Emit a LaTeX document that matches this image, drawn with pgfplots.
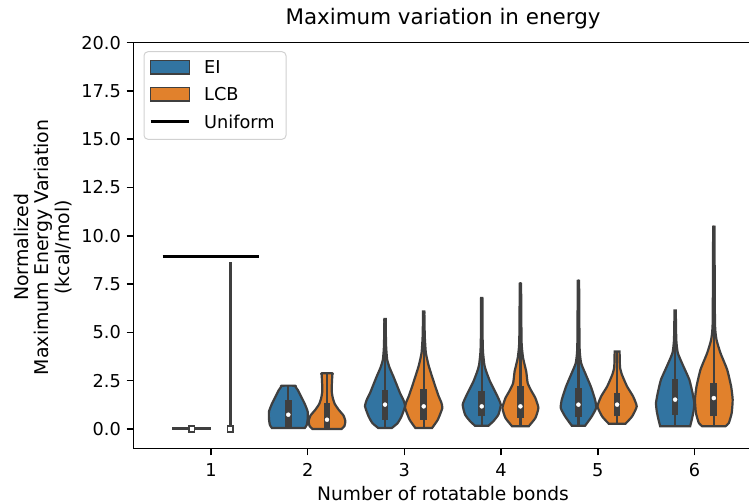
\documentclass[border=0pt]{standalone}
\usepackage{pgfplots}
\pgfplotsset{compat=1.18}
\usepackage{pgfplotstable}
\usepackage{fontspec}
\setmainfont{DejaVu Sans}
\definecolor{eiblue}{RGB}{50,116,161}
\definecolor{lcborange}{RGB}{225,129,44}
\definecolor{edgegray}{RGB}{63,63,63}

\pgfplotstableread{
dx y
0.17 0.05
0.19 0.2
0.2 0.5
0.2 0.9
0.17 1.3
0.13 1.7
0.1 2.0
0.075 2.18
0.07 2.24
-0.07 2.24
-0.075 2.18
-0.1 2.0
-0.13 1.7
-0.17 1.3
-0.2 0.9
-0.2 0.5
-0.19 0.2
-0.17 0.05
}\vTwoB
\pgfplotstableread{
dx y
0.15 0.0
0.18 0.15
0.19 0.4
0.17 0.7
0.12 1.0
0.08 1.3
0.06 1.6
0.05 1.9
0.05 2.3
0.055 2.8
0.055 2.88
-0.055 2.88
-0.055 2.8
-0.05 2.3
-0.05 1.9
-0.06 1.6
-0.08 1.3
-0.12 1.0
-0.17 0.7
-0.19 0.4
-0.18 0.15
-0.15 0.0
}\vTwoO
\pgfplotstableread{
dx y
0.07 0.05
0.13 0.3
0.17 0.65
0.207 1.17
0.19 1.5
0.155 1.86
0.12 2.3
0.086 2.72
0.045 3.2
0.022 3.6
0.012 4.2
0.008 5.0
0.007 5.55
0.007 5.69
-0.007 5.69
-0.007 5.55
-0.008 5.0
-0.012 4.2
-0.022 3.6
-0.045 3.2
-0.086 2.72
-0.12 2.3
-0.155 1.86
-0.19 1.5
-0.207 1.17
-0.17 0.65
-0.13 0.3
-0.07 0.05
}\vThreeB
\pgfplotstableread{
dx y
0.086 0.05
0.146 0.48
0.193 1.09
0.18 1.4
0.155 1.69
0.12 2.2
0.086 2.72
0.05 3.3
0.022 3.95
0.011 4.8
0.007 5.94
0.007 6.08
-0.007 6.08
-0.007 5.94
-0.011 4.8
-0.022 3.95
-0.05 3.3
-0.086 2.72
-0.12 2.2
-0.155 1.69
-0.18 1.4
-0.193 1.09
-0.146 0.48
-0.086 0.05
}\vThreeO
\pgfplotstableread{
dx y
0.07 0.17
0.12 0.4
0.172 0.74
0.197 1.26
0.155 1.77
0.086 2.46
0.045 3.0
0.027 3.33
0.013 4.0
0.008 5.0
0.007 6.64
0.007 6.78
-0.007 6.78
-0.007 6.64
-0.008 5.0
-0.013 4.0
-0.027 3.33
-0.045 3.0
-0.086 2.46
-0.155 1.77
-0.197 1.26
-0.172 0.74
-0.12 0.4
-0.07 0.17
}\vFourB
\pgfplotstableread{
dx y
0.086 0.14
0.155 0.57
0.186 1.09
0.155 1.6
0.11 2.0
0.075 2.38
0.06 2.98
0.028 3.67
0.012 4.5
0.007 7.41
0.007 7.55
-0.007 7.55
-0.007 7.41
-0.012 4.5
-0.028 3.67
-0.06 2.98
-0.075 2.38
-0.11 2.0
-0.155 1.6
-0.186 1.09
-0.155 0.57
-0.086 0.14
}\vFourO
\pgfplotstableread{
dx y
0.069 0.17
0.138 0.65
0.183 1.09
0.172 1.52
0.128 2.2
0.069 2.9
0.028 3.41
0.012 4.2
0.007 7.55
0.007 7.69
-0.007 7.69
-0.007 7.55
-0.012 4.2
-0.028 3.41
-0.069 2.9
-0.128 2.2
-0.172 1.52
-0.183 1.09
-0.138 0.65
-0.069 0.17
}\vFiveB
\pgfplotstableread{
dx y
0.086 0.27
0.155 0.65
0.203 1.17
0.165 1.69
0.103 2.2
0.05 2.81
0.03 3.2
0.026 3.9
0.026 4.01
-0.026 4.01
-0.026 3.9
-0.03 3.2
-0.05 2.81
-0.103 2.2
-0.165 1.69
-0.203 1.17
-0.155 0.65
-0.086 0.27
}\vFiveO
\pgfplotstableread{
dx y
0.155 0.14
0.172 0.48
0.19 0.91
0.198 1.34
0.18 1.86
0.147 2.55
0.086 3.24
0.028 3.93
0.012 4.6
0.007 6.0
0.007 6.14
-0.007 6.14
-0.007 6.0
-0.012 4.6
-0.028 3.93
-0.086 3.24
-0.147 2.55
-0.18 1.86
-0.198 1.34
-0.19 0.91
-0.172 0.48
-0.155 0.14
}\vSixB
\pgfplotstableread{
dx y
0.12 0.14
0.155 0.31
0.185 0.83
0.195 1.52
0.179 2.2
0.138 3.07
0.069 3.93
0.028 4.62
0.012 5.5
0.007 10.31
0.007 10.45
-0.007 10.45
-0.007 10.31
-0.012 5.5
-0.028 4.62
-0.069 3.93
-0.138 3.07
-0.179 2.2
-0.195 1.52
-0.185 0.83
-0.155 0.31
-0.12 0.14
}\vSixO

% center, colour, table
\newcommand{\violin}[3]{%
  \addplot[fill=#2, draw=edgegray, line width=2.2bp, smooth, tension=0.3, forget plot]
    table[x expr=\thisrow{dx}+#1, y=y]{#3} -- cycle;
}
% center, min, q1, q3, median, max
\newcommand{\vinner}[6]{%
  \addplot[edgegray, line width=2.2bp, forget plot] coordinates {(#1,#2) (#1,#6)};
  \addplot[edgegray, line width=6.7bp, forget plot] coordinates {(#1,#3) (#1,#4)};
  \addplot[only marks, mark=*, mark size=2bp, white, forget plot] coordinates {(#1,#5)};
}

\begin{document}
\begin{tikzpicture}[font=\fontsize{17.8}{21}\selectfont]
\path[use as bounding box] (-133.6bp,-55.7bp) rectangle (615.4bp,448.3bp);
\begin{axis}[
  scale only axis,
  width=618.9bp, height=405.7bp,
  xmin=-0.8, xmax=5.6,
  ymin=-1, ymax=20,
  xtick={0,1,2,3,4,5},
  xticklabels={1,2,3,4,5,6},
  ytick={0,2.5,5,7.5,10,12.5,15,17.5,20},
  /pgf/number format/assume math mode=true,
  tick align=outside,
  major tick length=7bp,
  tick style={black, line width=1.5bp},
  xtick pos=bottom, ytick pos=left,
  axis line style={black, line width=1.5bp},
  ticklabel style={font=\fontsize{17.8}{21}\selectfont},
  xticklabel style={anchor=base, inner sep=0pt, yshift=-21.4bp},
  yticklabel style={anchor=east, inner sep=0pt, xshift=-5.6bp,
    /pgf/number format/.cd, fixed, fixed zerofill, precision=1},
  xlabel={Number of rotatable bonds},
  xlabel style={at={(axis description cs:0.5,0)}, anchor=base, inner sep=0pt,
    yshift=-51.7bp, font=\fontsize{18.7}{22}\selectfont},
  title={Maximum variation in energy},
  title style={at={(axis description cs:0.5,1)}, anchor=base, inner sep=0pt,
    yshift=12.6bp, font=\fontsize{21.5}{25}\selectfont},
  clip=false,
]
% category 1
\addplot[black, line width=3bp, forget plot] coordinates {(-0.5,8.93) (0.5,8.93)};
\addplot[edgegray, line width=3bp, forget plot] coordinates {(-0.4,0) (0,0)};
\addplot[edgegray, line width=2.5bp, forget plot] coordinates {(0.2,0) (0.2,8.64)};
\addplot[only marks, mark=square*, mark size=2.8bp, mark options={fill=white, draw=edgegray, line width=1.8bp}, forget plot] coordinates {(-0.2,0) (0.2,0)};

% category 2
\violin{0.8}{eiblue}{\vTwoB}
\vinner{0.8}{0.05}{0.05}{1.52}{0.74}{2.24}
\violin{1.2}{lcborange}{\vTwoO}
\vinner{1.2}{0.0}{0.07}{1.36}{0.48}{2.88}
% category 3
\violin{1.8}{eiblue}{\vThreeB}
\vinner{1.8}{0.05}{0.48}{2.03}{1.26}{5.69}
\violin{2.2}{lcborange}{\vThreeO}
\vinner{2.2}{0.05}{0.48}{2.07}{1.17}{6.08}
% category 4
\violin{2.8}{eiblue}{\vFourB}
\vinner{2.8}{0.17}{0.65}{1.98}{1.17}{6.78}
\violin{3.2}{lcborange}{\vFourO}
\vinner{3.2}{0.14}{0.57}{2.2}{1.17}{7.55}
% category 5
\violin{3.8}{eiblue}{\vFiveB}
\vinner{3.8}{0.17}{0.62}{2.12}{1.26}{7.69}
\violin{4.2}{lcborange}{\vFiveO}
\vinner{4.2}{0.27}{0.65}{1.86}{1.26}{4.01}
% category 6
\violin{4.8}{eiblue}{\vSixB}
\vinner{4.8}{0.14}{0.74}{2.59}{1.52}{6.14}
\violin{5.2}{lcborange}{\vSixO}
\vinner{5.2}{0.14}{0.65}{2.38}{1.6}{10.45}
\end{axis}
% legend
\draw[black!18, line width=1bp, rounded corners=4bp, fill=white] (10.4bp,309bp) rectangle (152.4bp,396.6bp);
\draw[fill=eiblue, draw=edgegray, line width=1.2bp] (17.1bp,374.35bp) rectangle (55.7bp,387.65bp);
\draw[fill=lcborange, draw=edgegray, line width=1.2bp] (17.1bp,347.35bp) rectangle (55.7bp,360.65bp);
\draw[black, line width=3bp] (17.1bp,326.6bp) -- (55.7bp,326.6bp);
\node[anchor=base west, inner sep=0pt] at (70.4bp,374.5bp) {EI};
\node[anchor=base west, inner sep=0pt] at (70.4bp,347.5bp) {LCB};
\node[anchor=base west, inner sep=0pt] at (70.4bp,320.1bp) {Uniform};
\node[rotate=90, anchor=south, align=center, inner sep=0pt, font=\fontsize{19}{20.5}\selectfont] at (-61.6bp,201bp)
  {Normalized\\Maximum Energy Variation\\(kcal/mol)};
\end{tikzpicture}
\end{document}
